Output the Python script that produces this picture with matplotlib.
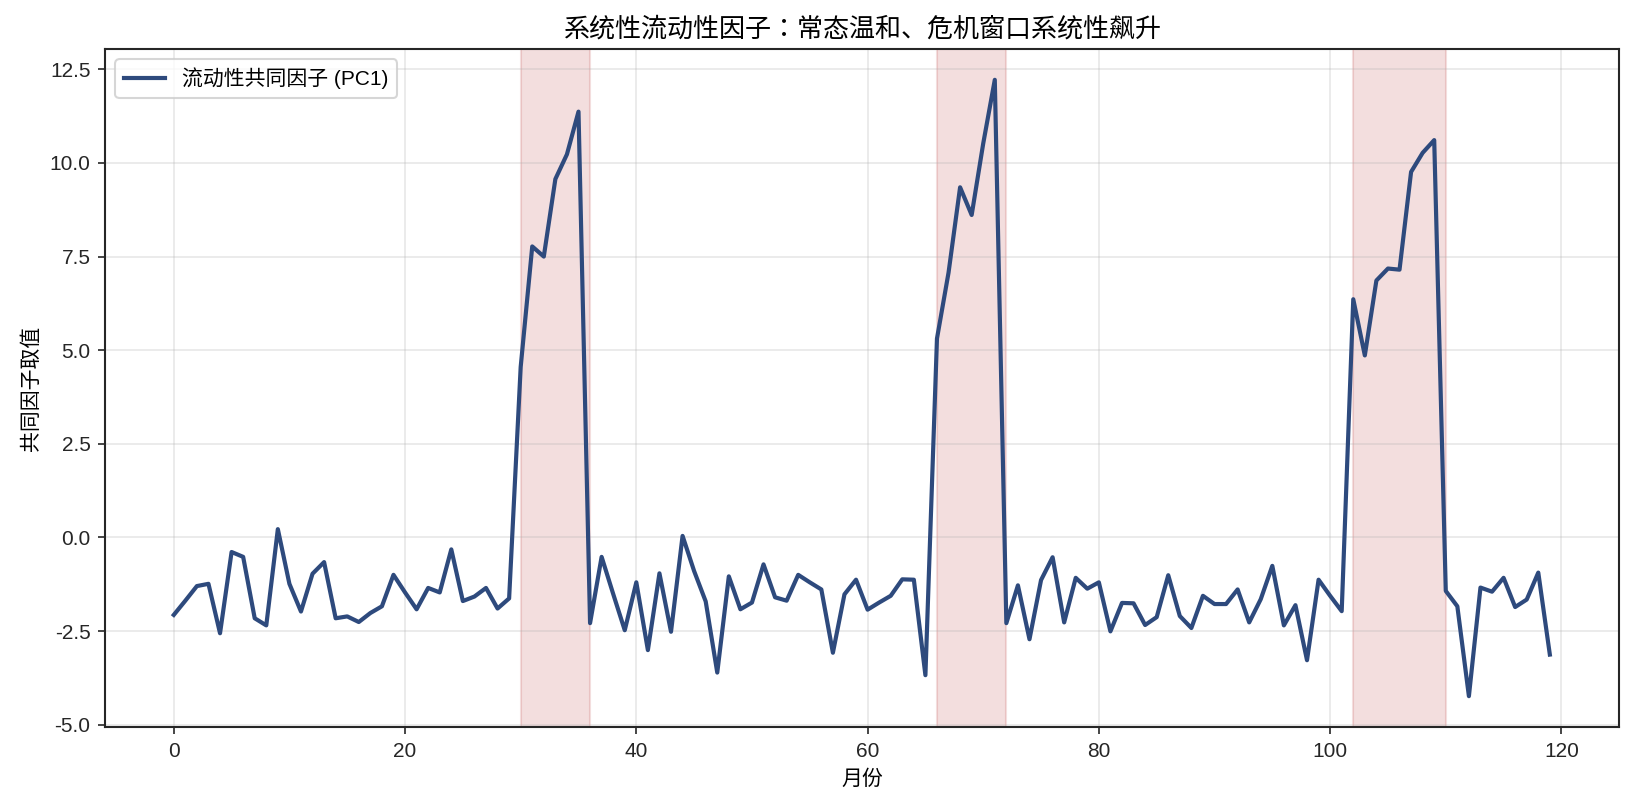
import matplotlib
matplotlib.use("Agg")
from matplotlib import pyplot as plt
import numpy as np

plt.rcParams['font.family'] = ['Liberation Sans', 'Noto Sans CJK SC', 'DejaVu Sans']
plt.rcParams['axes.unicode_minus'] = False
plt.rcParams['axes.edgecolor'] = '#262626'
plt.rcParams['axes.linewidth'] = 1.0
plt.rcParams['xtick.color'] = '#262626'
plt.rcParams['ytick.color'] = '#262626'

# monthly values of the common liquidity factor
months = np.arange(120)
pc1 = [
  -2.07, -1.69, -1.30, -1.24, -2.56, -0.39, -0.52, -2.16, -2.35, 0.22,
  -1.24, -1.98, -0.97, -0.66, -2.16, -2.11, -2.26, -2.02, -1.84, -1.00,
  -1.47, -1.92, -1.35, -1.47, -0.32, -1.70, -1.58, -1.35, -1.90, -1.63,
  4.55, 7.77, 7.50, 9.57, 10.23, 11.37, -2.29, -0.52, -1.51, -2.48,
  -1.20, -3.01, -0.96, -2.52, 0.04, -0.90, -1.71, -3.61, -1.04, -1.92,
  -1.74, -0.72, -1.60, -1.69, -1.00, -1.20, -1.39, -3.08, -1.52, -1.13,
  -1.93, -1.74, -1.56, -1.12, -1.13, -3.68, 5.31, 7.07, 9.35, 8.61,
  10.52, 12.22, -2.29, -1.28, -2.72, -1.14, -0.53, -2.27, -1.08, -1.37,
  -1.20, -2.51, -1.75, -1.76, -2.34, -2.13, -1.01, -2.10, -2.42, -1.56,
  -1.78, -1.78, -1.39, -2.27, -1.65, -0.76, -2.35, -1.81, -3.28, -1.13,
  -1.56, -1.97, 6.36, 4.86, 6.86, 7.18, 7.15, 9.76, 10.27, 10.61,
  -1.43, -1.84, -4.24, -1.34, -1.45, -1.08, -1.86, -1.66, -0.94, -3.13,
]
# crisis windows (start month, end month)
crisis_windows = [(30, 36), (66, 72), (102, 110)]

fig, ax = plt.subplots(figsize=(10.9, 5.4), dpi=150)
for start, end in crisis_windows:
  ax.axvspan(start, end, color='#b22222', alpha=0.15)
ax.plot(months, pc1, color='#2e4a7d', linewidth=2, label='流动性共同因子 (PC1)')

ax.set_title('系统性流动性因子：常态温和、危机窗口系统性飙升', fontsize=12.5,
             family=['Liberation Sans', 'Noto Sans CJK JP', 'DejaVu Sans'])
ax.set_xlabel('月份')
ax.set_ylabel('共同因子取值')
ax.grid(True, alpha=0.3)
ax.legend(loc='upper left')

fig.subplots_adjust(left=0.0642, right=0.990, top=0.9395, bottom=0.1025)
fig.savefig('out.png', dpi=150)
